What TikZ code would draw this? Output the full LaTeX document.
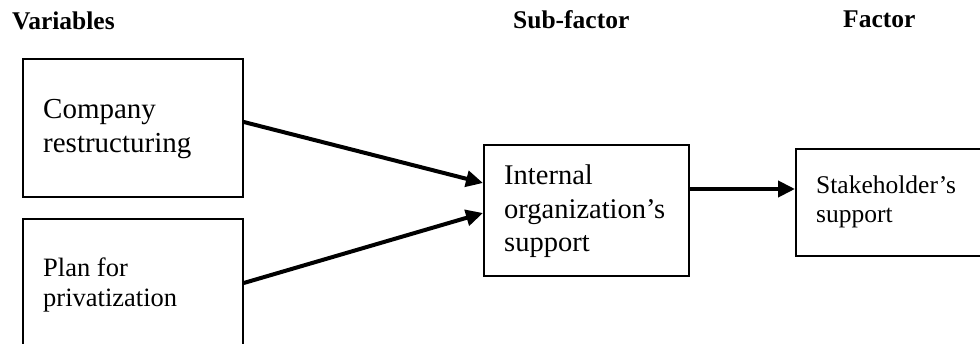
\documentclass[tikz,border=0pt]{standalone}
\usepackage{fontspec}
\setmainfont{Liberation Serif}
\usetikzlibrary{arrows.meta}
\begin{document}
\begin{tikzpicture}[x=1pt,y=-1pt,
  boxnode/.style={draw,line width=1.8pt,rectangle,inner sep=0pt,anchor=north west},
  txt/.style={anchor=base west,inner sep=0pt,align=left},
  head/.style={anchor=base west,inner sep=0pt,font=\fontsize{25.5}{30}\selectfont\bfseries},
  conn/.style={line width=4pt,-{Triangle[length=17pt,width=16pt]}}]
\useasboundingbox (0,0) rectangle (980,344);
% headers
\node[head] (hv) at (12,30) {Variables};
\node[head] (hs) at (513,29) {Sub-factor};
\node[head] (hf) at (843,28) {Factor};
% boxes
\node[boxnode,minimum width=220pt,minimum height=138pt] (b1) at (22,58) {};
\node[boxnode,minimum width=220pt,minimum height=140pt] (b2) at (22,218) {};
\node[boxnode,minimum width=205pt,minimum height=131pt] (b3) at (483,144) {};
\node[boxnode,minimum width=200pt,minimum height=107pt] (b4) at (795,148) {};
% texts (anchored at baseline of last line)
\node[txt,font=\fontsize{29}{34}\selectfont] (t1) at (43,153) {Company\\restructuring};
\node[txt,font=\fontsize{26.5}{30.5}\selectfont] (t2) at (43,307) {Plan for\\privatization};
\node[txt,font=\fontsize{28.5}{33.5}\selectfont] (t3) at (504,252) {Internal\\organization’s\\support};
\node[txt,font=\fontsize{25.5}{29}\selectfont] (t4) at (816,223) {Stakeholder’s\\support};
% connectors
\coordinate (s1) at (b1.east |- 0,122);
\coordinate (e1) at (b3.west |- 0,183);
\coordinate (s2) at (b2.east |- 0,283);
\coordinate (e2) at (b3.west |- 0,213);
\coordinate (s3) at (b3.east |- 0,189);
\coordinate (e3) at (b4.west |- 0,189);
\draw[conn] (s1) -- (e1);
\draw[conn] (s2) -- (e2);
\draw[conn] (s3) -- (e3);
\end{tikzpicture}
\end{document}
